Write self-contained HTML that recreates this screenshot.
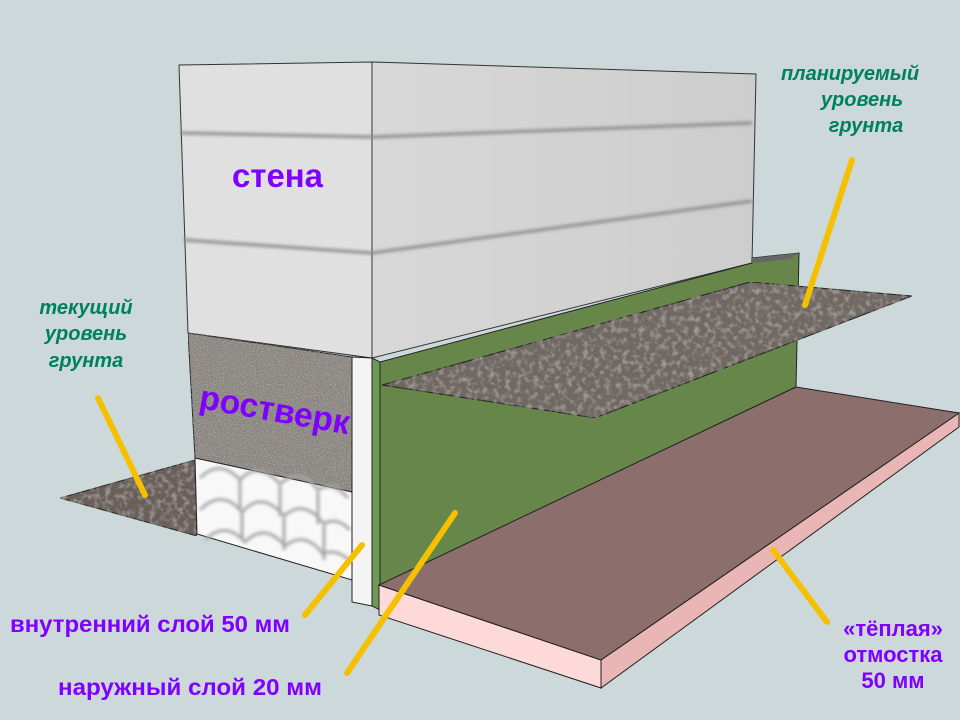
<!DOCTYPE html>
<html><head><meta charset="utf-8"><style>
html,body{margin:0;padding:0;background:#ccd8da;}
svg{display:block;}
</style></head><body>
<svg width="960" height="720" viewBox="0 0 960 720" xmlns="http://www.w3.org/2000/svg">
<defs>
<filter id="grav" x="0" y="0" width="100%" height="100%">
<feTurbulence type="fractalNoise" baseFrequency="0.18" numOctaves="2" seed="3" result="n"/>
<feColorMatrix in="n" type="matrix" values="0 0 0 0 0.58  0 0 0 0 0.54  0 0 0 0 0.52  0 0 0 1.2 -0.55" result="c"/>
<feComposite in="c" in2="SourceGraphic" operator="in" result="m"/>
<feMerge><feMergeNode in="SourceGraphic"/><feMergeNode in="m"/></feMerge>
</filter>
<filter id="conc" x="0" y="0" width="100%" height="100%">
<feTurbulence type="fractalNoise" baseFrequency="0.9" numOctaves="1" seed="5" result="n"/>
<feColorMatrix in="n" type="matrix" values="0 0 0 0 0.72  0 0 0 0 0.71  0 0 0 0 0.7  0 0 0 1.6 -0.8" result="c"/>
<feComposite in="c" in2="SourceGraphic" operator="in" result="m"/>
<feMerge><feMergeNode in="SourceGraphic"/><feMergeNode in="m"/></feMerge>
</filter>
<linearGradient id="side" x1="0" y1="0" x2="1" y2="0">
<stop offset="0" stop-color="#d8d8d8"/><stop offset="1" stop-color="#cdcdcd"/>
</linearGradient>
<filter id="blur"><feGaussianBlur stdDeviation="1.5"/></filter>
</defs>

<polygon points="60,498 195,460 197,536" fill="#6a605a" filter="url(#grav)" stroke="#222" stroke-width="1"/>

<polygon points="179,65 372,62 372,358 188,333" fill="#e0e0e0" stroke="#333" stroke-width="1"/>
<polygon points="372,62 756,74 752,263 372,358" fill="url(#side)" stroke="#333" stroke-width="1"/>
<g stroke="#8a8a8a" stroke-width="3" fill="none" filter="url(#blur)">
<path d="M181,133 L372,137 L752,123"/>
<path d="M184,240 L372,253 L752,201"/>
</g>

<polygon points="188,333 352,357 352,492 195,458" fill="#8a8580" filter="url(#conc)" stroke="#222" stroke-width="1"/>
<polygon points="195,458 352,492 352,580 197,534" fill="#f8f8f8" stroke="#222" stroke-width="1"/>
<g stroke="#a8a8a8" stroke-width="3" fill="none" filter="url(#blur)">
<path d="M200,478 q20,-20 40,2 q18,-20 40,4 q20,-18 38,6 q14,-10 30,8"/>
<path d="M200,510 q22,-22 42,2 q20,-22 42,4 q20,-18 40,8 q12,-8 26,6"/>
<path d="M205,540 q20,-20 40,2 q20,-20 40,4 q20,-16 38,8 q12,-6 26,6"/>
<path d="M240,480 v30 M280,486 v30 M318,492 v32 M242,512 v28 M284,518 v32 M324,526 v34"/>
</g>

<polygon points="352,357 372,358 372,606 352,602" fill="#f4f4f4" stroke="#222" stroke-width="1"/>
<polygon points="372,358 380,362 380,610 372,606" fill="#6f9a55" stroke="#222" stroke-width="1"/>
<polygon points="380,362 752,263 752,258 799,253 796,387 380,585" fill="#67874a" stroke="#222" stroke-width="1"/>
<polygon points="752,263 752,258 799,253 790,259" fill="#666" />

<polygon points="382,385 750,282 912,296 595,418" fill="#706862" filter="url(#grav)" stroke="#222" stroke-width="1"/>

<polygon points="379,585 601,660 601,688 379,615" fill="#fdd9d9" stroke="#222" stroke-width="1"/>
<polygon points="601,660 959,413 959,427 601,688" fill="#e9b5b5" stroke="#222" stroke-width="1"/>
<polygon points="379,585 796,387 959,413 601,660" fill="#8c6e6c" stroke="#222" stroke-width="1"/>

<g stroke="#f5c000" stroke-width="6" stroke-linecap="round">
<line x1="98" y1="398" x2="145" y2="495"/>
<line x1="852" y1="160" x2="805" y2="305"/>
<line x1="362" y1="545" x2="305" y2="615"/>
<line x1="455" y1="513" x2="347" y2="673"/>
<line x1="773" y1="550" x2="827" y2="622"/>
</g>

<g font-family="Liberation Sans, sans-serif" font-weight="bold">
<text x="232" y="187" font-size="33" fill="#8000ff" textLength="91" lengthAdjust="spacingAndGlyphs">стена</text>
<text x="198" y="408" font-size="34" fill="#8000ff" transform="rotate(10 198 408)" textLength="152" lengthAdjust="spacingAndGlyphs">ростверк</text>
<g fill="#008060" font-style="italic" font-size="20" text-anchor="middle">
<text x="850" y="80">планируемый</text>
<text x="862" y="106">уровень</text>
<text x="866" y="132">грунта</text>
<text x="86" y="314">текущий</text>
<text x="86" y="340">уровень</text>
<text x="86" y="367">грунта</text>
</g>
<g fill="#8000ff" font-size="23">
<text x="10" y="632" textLength="280" lengthAdjust="spacingAndGlyphs">внутренний слой 50 мм</text>
<text x="58" y="695" textLength="264" lengthAdjust="spacingAndGlyphs">наружный слой 20 мм</text>
<g text-anchor="middle" font-size="22">
<text x="893" y="636">«тёплая»</text>
<text x="893" y="662">отмостка</text>
<text x="893" y="688">50 мм</text>
</g>
</g>
</g>
</svg>
</body></html>
